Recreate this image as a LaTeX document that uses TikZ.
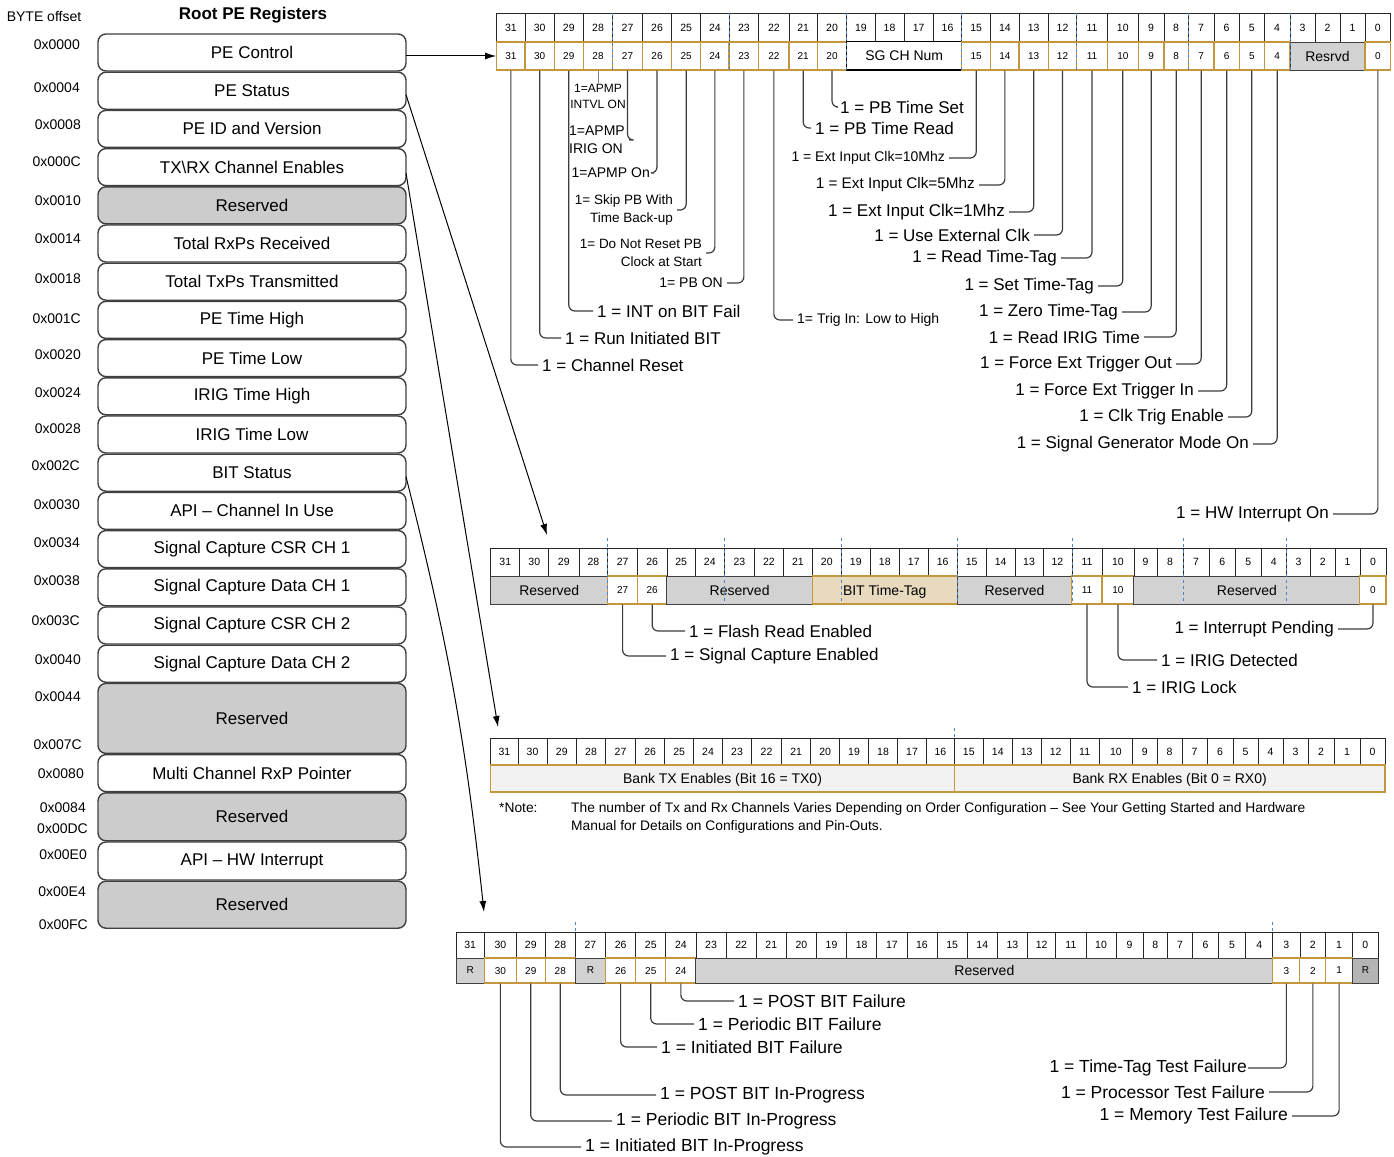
\documentclass[tikz,border=0pt]{standalone}
\usepackage{fontspec}
\setmainfont{Liberation Sans}
\usetikzlibrary{arrows.meta, positioning, fit, calc}

\definecolor{bitorange}{RGB}{196,150,62}
\definecolor{resgray}{RGB}{210,210,210}
\definecolor{rdarkgray}{RGB}{180,180,180}
\definecolor{boxgray}{RGB}{204,204,204}
\definecolor{tagtan}{RGB}{232,218,190}
\definecolor{bankfill}{RGB}{242,242,242}
\definecolor{leadgray}{RGB}{60,60,60}
\definecolor{nibbleblue}{RGB}{80,130,200}

\newcommand\fsz[1]{\fontsize{#1}{#1}\selectfont}

% row of bit numbers, plus one coordinate per bit edge
\newcommand\regbits[5]{% #1 register, #2 edges left to right, #3 top, #4 middle, #5 bottom
  \coordinate (#1-top) at (0,#3);
  \coordinate (#1-mid) at (0,#4);
  \coordinate (#1-bot) at (0,#5);
  \foreach \ex [count=\k from 0] in {#2} {
    \pgfmathtruncatemacro\eb{32-\k}
    \coordinate (#1-e\eb) at (\ex,#3);
  }
  \foreach \b in {31,...,0} {
    \pgfmathtruncatemacro\hb{\b+1}
    \coordinate (p1) at (#1-e\hb |- #1-top);
    \coordinate (p2) at (#1-e\b |- #1-mid);
    \node[numcell, fit=(p1)(p2)] (#1-n\b) {};
    \node[numcell, draw=none, fill=none] at (#1-n\b.center) {\b};
  }
}

% one field of the lower row, named after its low bit
\newcommand\field[5]{% #1 register, #2 high bit, #3 low bit, #4 style, #5 text
  \pgfmathtruncatemacro\hb{#2+1}
  \coordinate (p1) at (#1-e\hb |- #1-mid);
  \coordinate (p2) at (#1-e#3 |- #1-bot);
  \node[#4, fit=(p1)(p2)] (#1-f#3) {};
  \node[#4, draw=none, fill=none, text depth=0pt] at (#1-f#3.center) {#5};
}

\begin{document}
\begin{tikzpicture}[x=1pt, y=-1pt, >=Latex,
    regbox/.style={rectangle, draw=black!75, line width=1.4pt, rounded corners=8pt, fill=white, minimum width=308pt, minimum height=37pt, inner sep=0pt, outer sep=0pt, font=\fsz{17}},
    resvbox/.style={regbox, fill=boxgray},
    offs/.style={anchor=east, inner sep=0pt, font=\fsz{14}},
    numcell/.style={draw=black!85, line width=0.8pt, fill=white, inner sep=0pt, font=\fsz{10.5}},
    bitbox/.style={draw=bitorange, line width=1.1pt, fill=white, inner sep=0pt, font=\fsz{10}},
    resfield/.style={draw=black!75, line width=0.9pt, fill=resgray, inner sep=0pt, font=\fsz{14}},
    plainfield/.style={draw=black, line width=1pt, fill=white, inner sep=0pt, font=\fsz{14}},
    tagfield/.style={draw=bitorange, line width=1.1pt, fill=tagtan, inner sep=0pt, font=\fsz{14}},
    bankfield/.style={draw=bitorange, line width=1.1pt, fill=bankfill, inner sep=0pt, font=\fsz{14}},
    rbox/.style={resfield, font=\fsz{10}},
    rdark/.style={resfield, fill=rdarkgray, font=\fsz{10}},
    nibble/.style={draw=nibbleblue, line width=0.8pt, dash pattern=on 3pt off 3pt},
    lead/.style={draw=leadgray, line width=1.2pt, rounded corners=6pt},
    lbl/.style={inner xsep=4pt, inner ysep=1pt, font=\fsz{17}},
    ptr/.style={draw=black, line width=1pt, -{Latex[length=11pt, width=7pt]}}]

    \useasboundingbox (0,0) rectangle (1394,1156);

    % Root PE register map
    \node[font=\fsz{14}, inner sep=0pt] (bytehdr) at (44,17) {BYTE offset};
    \node[font=\bfseries\fsz{17}, inner sep=0pt] (roothdr) at (253,15) {Root PE Registers};

    \node[regbox] (pectl) at (252,52.5) {PE Control};
    \node[regbox, below=1.2pt of pectl] (pests) {PE Status};
    \node[regbox, below=1.2pt of pests] (peid) {PE ID and Version};
    \node[regbox, below=1.2pt of peid] (txrx) {TX\textbackslash RX Channel Enables};
    \node[resvbox, below=1.2pt of txrx] (res10) {Reserved};
    \node[regbox, below=1.2pt of res10] (rxps) {Total RxPs Received};
    \node[regbox, below=1.2pt of rxps] (txps) {Total TxPs Transmitted};
    \node[regbox, below=1.2pt of txps] (timehi) {PE Time High};
    \node[regbox, below=1.2pt of timehi] (timelo) {PE Time Low};
    \node[regbox, below=1.2pt of timelo] (irighi) {IRIG Time High};
    \node[regbox, below=1.2pt of irighi] (iriglo) {IRIG Time Low};
    \node[regbox, below=1.2pt of iriglo] (bitst) {BIT Status};
    \node[regbox, below=1.2pt of bitst] (apichan) {API – Channel In Use};
    \node[regbox, below=1.2pt of apichan] (sccsr1) {Signal Capture CSR CH 1};
    \node[regbox, below=1.2pt of sccsr1] (scdat1) {Signal Capture Data CH 1};
    \node[regbox, below=1.2pt of scdat1] (sccsr2) {Signal Capture CSR CH 2};
    \node[regbox, below=1.2pt of sccsr2] (scdat2) {Signal Capture Data CH 2};
    \node[resvbox, below=1.2pt of scdat2, minimum height=70pt] (res44) {Reserved};
    \node[regbox, below=1.2pt of res44] (mcrxp) {Multi Channel RxP Pointer};
    \node[resvbox, below=1.2pt of mcrxp, minimum height=48pt] (res84) {Reserved};
    \node[regbox, below=1.2pt of res84, minimum height=38pt] (apihw) {API – HW Interrupt};
    \node[resvbox, below=1.2pt of apihw, minimum height=47pt] (rese4) {Reserved};

    % byte offsets
    \foreach \y/\x/\t in {45/80/0x0000, 88/80/0x0004, 125/81/0x0008, 162/81/0x000C,
        201/81/0x0010, 239/81/0x0014, 279/81/0x0018, 319/81/0x001C, 355/81/0x0020,
        393/81/0x0024, 429/81/0x0028, 466/80/0x002C, 505/80/0x0030, 543/80/0x0034,
        581/80/0x0038, 621/80/0x003C, 660/81/0x0040, 697/81/0x0044, 745/82/0x007C,
        774/84/0x0080, 808/86/0x0084, 829/88/0x00DC, 855/87/0x00E0, 892/86/0x00E4,
        925/88/0x00FC}
        \node[offs] (off\t) at (\x,\y) {\t};

    % PE Control register
    \regbits{ctl}{496.7,525,554.3,583.3,612.7,642.3,671.7,700.7,729,758.7,789,817.3,846.7,875,904,933.3,961.7,990.7,1019,1048.3,1076.7,1107.3,1138.3,1164,1188.3,1214,1239.3,1264.3,1290,1315,1340,1365,1390.7}{13}{42}{70}
    \foreach \b in {31,...,20} {\field{ctl}{\b}{\b}{bitbox}{\b}}
    \field{ctl}{19}{16}{plainfield}{SG CH Num}
    \foreach \b in {15,...,4} {\field{ctl}{\b}{\b}{bitbox}{\b}}
    \field{ctl}{3}{1}{resfield}{Resrvd}
    \field{ctl}{0}{0}{bitbox}{0}
    \foreach \e in {28,24,20,16,12,8,4}
        \draw[nibble] (ctl-e\e |- ctl-top) -- (ctl-e\e |- ctl-bot);

    % PE Control bit meanings
    \node[lbl, anchor=west] (chreset) at (538,365) {1 = Channel Reset};
    \node[lbl, anchor=west] (runbit) at (561,338) {1 = Run Initiated BIT};
    \node[lbl, anchor=west] (intfail) at (593,311) {1 = INT on BIT Fail};
    \node[lbl, font=\fontsize{12}{16}\selectfont, align=center, below=12pt of ctl-f28] (apmpintvl) {1=APMP\\INTVL ON};
    \node[lbl, font=\fontsize{14}{18}\selectfont, align=left, anchor=east] (apmpirig) at (629,140) {1=APMP\\IRIG ON};
    \node[lbl, font=\fsz{14}, anchor=east] (apmpon) at (654,173) {1=APMP On};
    \node[lbl, font=\fontsize{13.5}{18}\selectfont, align=right, anchor=east] (skippb) at (677,210) {1= Skip PB With\\Time Back-up};
    \node[lbl, font=\fontsize{13.5}{18}\selectfont, align=right, anchor=east] (noreset) at (706,253) {1= Do Not Reset PB\\Clock at Start};
    \node[lbl, font=\fsz{14}, anchor=east] (pbon) at (727,283) {1= PB ON};
    \node[lbl, font=\fsz{14}, anchor=west] (trigin) at (793,320) {1= Trig In: Low to High};
    \node[lbl, anchor=west] (pbread) at (811,128) {1 = PB Time Read};
    \node[lbl, anchor=west] (pbset) at (836,107) {1 = PB Time Set};
    \node[lbl, font=\fsz{14}, anchor=east] (clkten) at (949,158) {1 = Ext Input Clk=10Mhz};
    \node[lbl, font=\fsz{15.3}, anchor=east] (clkfive) at (979,185) {1 = Ext Input Clk=5Mhz};
    \node[lbl, anchor=east] (clkone) at (1009,212) {1 = Ext Input Clk=1Mhz};
    \node[lbl, anchor=east] (extclk) at (1034,235) {1 = Use External Clk};
    \node[lbl, anchor=east] (rdtag) at (1061,258) {1 = Read Time-Tag};
    \node[lbl, anchor=east] (settag) at (1098,286) {1 = Set Time-Tag};
    \node[lbl, anchor=east] (zerotag) at (1122,312) {1 = Zero Time-Tag};
    \node[lbl, anchor=east] (rdirig) at (1144,337) {1 = Read IRIG Time};
    \node[lbl, anchor=east] (trigout) at (1176,364) {1 = Force Ext Trigger Out};
    \node[lbl, anchor=east] (forcein) at (1198,391) {1 = Force Ext Trigger In};
    \node[lbl, anchor=east] (clktrig) at (1228,417) {1 = Clk Trig Enable};
    \node[lbl, anchor=east] (siggen) at (1253,444) {1 = Signal Generator Mode On};
    \node[lbl, anchor=east] (hwint) at (1333,514) {1 = HW Interrupt On};

    \draw[lead] (ctl-f31.south) |- (chreset.west);
    \draw[lead] (ctl-f30.south) |- (runbit.west);
    \draw[lead] (ctl-f29.south) |- (intfail.west);
    \draw[draw=gray, line width=0.8pt] (ctl-f28.south) -- (apmpintvl.north);
    \draw[lead] (ctl-f27.south) |- (apmpirig.east);
    \draw[lead] (ctl-f26.south) |- (apmpon.east);
    \draw[lead] (ctl-f25.south) |- (skippb.east);
    \draw[lead] (ctl-f24.south) |- (noreset.east);
    \draw[lead] (ctl-f23.south) |- (pbon.east);
    \draw[lead] (ctl-f22.south) |- (trigin.west);
    \draw[lead] (ctl-f21.south) |- (pbread.west);
    \draw[lead] (ctl-f20.south) |- (pbset.west);
    \draw[lead] (ctl-f15.south) |- (clkten.east);
    \draw[lead] (ctl-f14.south) |- (clkfive.east);
    \draw[lead] (ctl-f13.south) |- (clkone.east);
    \draw[lead] (ctl-f12.south) |- (extclk.east);
    \draw[lead] (ctl-f11.south) |- (rdtag.east);
    \draw[lead] (ctl-f10.south) |- (settag.east);
    \draw[lead] (ctl-f9.south) |- (zerotag.east);
    \draw[lead] (ctl-f8.south) |- (rdirig.east);
    \draw[lead] (ctl-f7.south) |- (trigout.east);
    \draw[lead] (ctl-f6.south) |- (forcein.east);
    \draw[lead] (ctl-f5.south) |- (clktrig.east);
    \draw[lead] (ctl-f4.south) |- (siggen.east);
    \draw[lead] (ctl-f0.south) |- (hwint.east);

    % PE Status register
    \regbits{sts}{490.8,519.8,548.7,578.9,607.8,637.4,666.9,695.3,724.3,754.4,783.4,812.3,841.3,870.3,899.3,928.2,957.2,986.2,1015.1,1042.9,1071.9,1102,1133.9,1157.1,1183.1,1209.2,1235.3,1261.4,1286.3,1310.6,1335,1359.9,1386}{548}{576}{604}
    \field{sts}{31}{28}{resfield}{Reserved}
    \field{sts}{27}{27}{bitbox}{27}
    \field{sts}{26}{26}{bitbox}{26}
    \field{sts}{25}{21}{resfield}{Reserved}
    \field{sts}{20}{16}{tagfield}{BIT Time-Tag}
    \field{sts}{15}{12}{resfield}{Reserved}
    \field{sts}{11}{11}{bitbox}{11}
    \field{sts}{10}{10}{bitbox}{10}
    \field{sts}{9}{1}{resfield}{Reserved}
    \field{sts}{0}{0}{bitbox}{0}
    \foreach \e in {28,24,20,16,12,8,4}
        \draw[nibble] ([yshift=10pt]sts-e\e |- sts-top) -- (sts-e\e |- sts-bot);

    \node[lbl, anchor=west] (flashrd) at (685,631) {1 = Flash Read Enabled};
    \node[lbl, anchor=west] (sigcap) at (666,656) {1 = Signal Capture Enabled};
    \node[lbl, anchor=east] (intpend) at (1338,629) {1 = Interrupt Pending};
    \node[lbl, anchor=west] (irigdet) at (1157,660) {1 = IRIG Detected};
    \node[lbl, anchor=west] (iriglock) at (1128,687) {1 = IRIG Lock};

    \draw[lead] (sts-f26.south) |- (flashrd.west);
    \draw[lead] (sts-f27.south) |- (sigcap.west);
    \draw[lead] (sts-f0.south) |- (intpend.east);
    \draw[lead] (sts-f10.south) |- (irigdet.west);
    \draw[lead] (sts-f11.south) |- (iriglock.west);

    % TX/RX channel enables register
    \regbits{chen}{490.8,518,547,576.5,605.5,635.6,664.6,693.6,722.5,751.5,781.6,810.6,839.6,868.5,897.5,926.5,954.3,983.3,1012.2,1041.2,1070.2,1099.1,1132.7,1157,1182,1207,1233,1258,1283,1308,1334,1360,1385}{738}{765}{792}
    \field{chen}{31}{16}{bankfield}{Bank TX Enables (Bit 16 = TX0)}
    \field{chen}{15}{0}{bankfield}{Bank RX Enables (Bit 0 = RX0)}
    \draw[nibble] ([yshift=10pt]chen-e16 |- chen-top) -- (chen-e16 |- chen-top);

    \node[font=\fsz{13.8}, anchor=west, inner sep=0pt] (notehdr) at (499,808) {*Note:};
    \node[font=\fontsize{13.8}{18}\selectfont, anchor=north west, align=left, inner sep=0pt] (notetxt) at (571,802)
        {The number of Tx and Rx Channels Varies Depending on Order Configuration – See Your Getting Started and Hardware\\Manual for Details on Configurations and Pin-Outs.};

    % BIT Status register
    \regbits{bst}{456,484.4,516.3,545.2,575.4,605.5,635.7,665.8,695.9,726.1,756.2,786.3,816.5,846.6,876.8,906.9,937,967.2,997.3,1027.5,1055.8,1086,1116.1,1143.2,1167.3,1192.6,1218.5,1245.6,1272.8,1299.9,1325.8,1352.4,1378.3}{932}{958}{983}
    \field{bst}{31}{31}{rbox}{R}
    \foreach \b in {30,29,28} {\field{bst}{\b}{\b}{bitbox}{\b}}
    \field{bst}{27}{27}{rbox}{R}
    \foreach \b in {26,25,24} {\field{bst}{\b}{\b}{bitbox}{\b}}
    \field{bst}{23}{4}{resfield}{Reserved}
    \foreach \b in {3,2,1} {\field{bst}{\b}{\b}{bitbox}{\b}}
    \field{bst}{0}{0}{rdark}{R}
    \foreach \e in {28,4}
        \draw[nibble] ([yshift=10pt]bst-e\e |- bst-top) -- (bst-e\e |- bst-top);

    \node[lbl, font=\fsz{17.5}, anchor=west] (postfail) at (734,1001) {1 = POST BIT Failure};
    \node[lbl, font=\fsz{17.5}, anchor=west] (perfail) at (694,1024) {1 = Periodic BIT Failure};
    \node[lbl, font=\fsz{17.5}, anchor=west] (initfail) at (657,1047) {1 = Initiated BIT Failure};
    \node[lbl, font=\fsz{17.5}, anchor=west] (postprog) at (656,1095) {1 = POST BIT In-Progress};
    \node[lbl, font=\fsz{17.5}, anchor=west] (perprog) at (612,1121) {1 = Periodic BIT In-Progress};
    \node[lbl, font=\fsz{17.5}, anchor=west] (initprog) at (581,1147) {1 = Initiated BIT In-Progress};
    \node[lbl, font=\fsz{17.5}, anchor=east, inner xsep=1pt] (ttfail) at (1248,1068) {1 = Time-Tag Test Failure};
    \node[lbl, font=\fsz{17.5}, anchor=east] (procfail) at (1269,1092) {1 = Processor Test Failure};
    \node[lbl, font=\fsz{17.5}, anchor=east] (memfail) at (1292,1116) {1 = Memory Test Failure};

    \draw[lead] (bst-f24.south) |- (postfail.west);
    \draw[lead] (bst-f25.south) |- (perfail.west);
    \draw[lead] (bst-f26.south) |- (initfail.west);
    \draw[lead] (bst-f28.south) |- (postprog.west);
    \draw[lead] (bst-f29.south) |- (perprog.west);
    \draw[lead] (bst-f30.south) |- (initprog.west);
    \draw[lead] (bst-f3.south) |- (ttfail.east);
    \draw[lead] (bst-f2.south) |- (procfail.east);
    \draw[lead] (bst-f1.south) |- (memfail.east);

    % pointers from the map to the registers
    \coordinate (stsin) at (547,535);
    \coordinate (chenin) at (498,727);
    \coordinate (bstin) at (484,912);
    \draw[ptr] (pectl.east |- ctl-f31.west) -- (ctl-f31.west);
    \draw[ptr] ([yshift=-4pt]pests.east) -- (stsin);
    \draw[ptr] ([yshift=-6pt]txrx.east) -- (chenin);
    \draw[ptr] ([yshift=-4pt]bitst.east) to[bend left=4] (bstin);
\end{tikzpicture}
\end{document}
